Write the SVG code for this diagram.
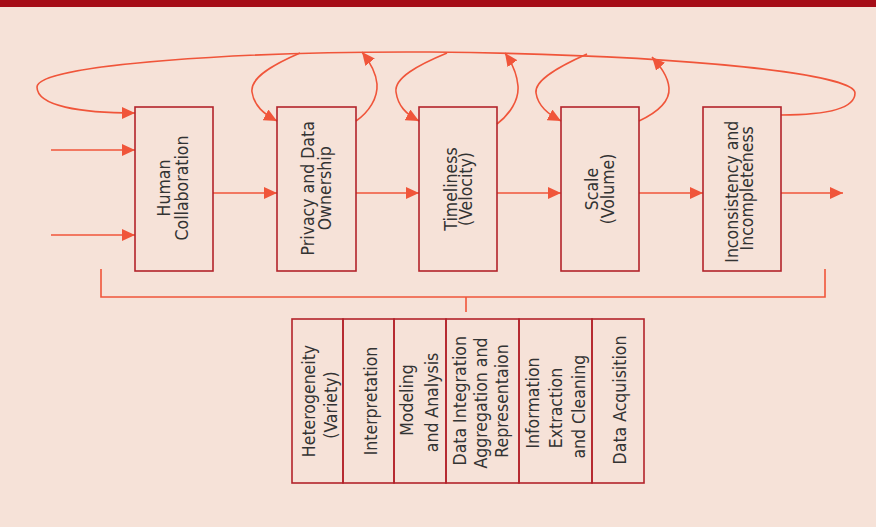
<svg xmlns="http://www.w3.org/2000/svg" width="876" height="527" viewBox="0 0 876 527">
<defs>
<style>
.box{fill:none;stroke:#b3232b;stroke-width:1.6}
.ln{fill:none;stroke:#f0553a;stroke-width:1.6}
.t{font-family:"DejaVu Sans Condensed","DejaVu Sans",sans-serif;font-stretch:condensed;font-size:17.5px;fill:#333;text-anchor:middle}
</style>
<marker id="ah" markerUnits="userSpaceOnUse" markerWidth="13" markerHeight="12" refX="13" refY="6" orient="auto">
<path d="M0,0 L13,6 L0,12 z" fill="#f0553a"/>
</marker>
</defs>
<rect x="0" y="0" width="876" height="527" fill="#f6e2d8"/>
<rect x="0" y="0" width="876" height="7" fill="#a60d17"/>

<g id="connectors">
<path class="ln" d="M781,115 C815,115 855,112 855,93 C855,75 700,55 430,52 C250,51 37,64 37,87 C37,106 80,113 135,113" marker-end="url(#ah)"/>
<path class="ln" d="M300,53 C272,65 250,78 252,92 C254,106 264,114 277,121" marker-end="url(#ah)"/>
<path class="ln" d="M447,53 C418,65 394,78 396,92 C398,106 406,114 419,121" marker-end="url(#ah)"/>
<path class="ln" d="M587,54 C560,66 534,80 536,93 C538,106 548,114 561,121" marker-end="url(#ah)"/>
<path class="ln" d="M356,121 C369,112 378,98 377,84 C376,72 370,62 362,52" marker-end="url(#ah)"/>
<path class="ln" d="M497,124 C510,114 519,100 518,86 C517,74 512,63 505,53" marker-end="url(#ah)"/>
<path class="ln" d="M639,121 C656,113 670,102 669,88 C668,76 660,66 652,57" marker-end="url(#ah)"/>
<path class="ln" d="M51,150 H135" marker-end="url(#ah)"/>
<path class="ln" d="M51,235 H135" marker-end="url(#ah)"/>
<path class="ln" d="M213,193 H277" marker-end="url(#ah)"/>
<path class="ln" d="M356,193 H419" marker-end="url(#ah)"/>
<path class="ln" d="M497,193 H561" marker-end="url(#ah)"/>
<path class="ln" d="M639,193 H703" marker-end="url(#ah)"/>
<path class="ln" d="M781,193 H843" marker-end="url(#ah)"/>
<path class="ln" d="M101,269 V297 H825 V269 M466,297 V312"/>
</g>

<g id="human">
<rect class="box" x="135" y="107" width="78" height="164"/>
<text class="t" transform="translate(174,188) rotate(-90)"><tspan x="0" y="-4">Human</tspan><tspan x="0" y="13.5">Collaboration</tspan></text>
</g>
<g id="privacy">
<rect class="box" x="277" y="107" width="79" height="164"/>
<text class="t" transform="translate(316.5,188.3) rotate(-90)"><tspan x="0" y="-2.5">Privacy and Data</tspan><tspan x="0" y="14.5">Ownership</tspan></text>
</g>
<g id="timeliness">
<rect class="box" x="419" y="107" width="78" height="164"/>
<text class="t" transform="translate(458,189) rotate(-90)"><tspan x="0" y="-1">Timeliness</tspan><tspan x="0" y="14">(Velocity)</tspan></text>
</g>
<g id="scale">
<rect class="box" x="561" y="107" width="78" height="164"/>
<text class="t" transform="translate(600,189) rotate(-90)"><tspan x="0" y="-2">Scale</tspan><tspan x="0" y="14">(Volume)</tspan></text>
</g>
<g id="inconsistency">
<rect class="box" x="703" y="107" width="78" height="164"/>
<text class="t" transform="translate(742,188.3) rotate(-90)"><tspan x="-3.4" y="-4">Inconsistency and</tspan><tspan x="0" y="11">Incompleteness</tspan></text>
</g>

<g id="heterogeneity">
<rect class="box" x="292" y="319" width="51" height="164"/>
<text class="t" transform="translate(317.5,401) rotate(-90)"><tspan x="0" y="-2.5">Heterogeneity</tspan><tspan x="-4" y="19.2">(Variety)</tspan></text>
</g>
<g id="interpretation">
<rect class="box" x="343" y="319" width="51" height="164"/>
<text class="t" transform="translate(368.5,401) rotate(-90)"><tspan x="0" y="8.2">Interpretation</tspan></text>
</g>
<g id="modeling">
<rect class="box" x="394" y="319" width="52" height="164"/>
<text class="t" transform="translate(420,401) rotate(-90)"><tspan x="1" y="-6.7">Modeling</tspan><tspan x="-1.5" y="17.7">and Analysis</tspan></text>
</g>
<g id="integration">
<rect class="box" x="446" y="319" width="73" height="164"/>
<text class="t" transform="translate(482.5,401) rotate(-90)"><tspan x="0.2" y="-16.5">Data Integration</tspan><tspan x="-2" y="4.5">Aggregation and</tspan><tspan x="0" y="25.5">Representaion</tspan></text>
</g>
<g id="extraction">
<rect class="box" x="519" y="319" width="73" height="164"/>
<text class="t" transform="translate(555.5,401) rotate(-90)"><tspan x="-2" y="-16.2">Information</tspan><tspan x="-7" y="6.2">Extraction</tspan><tspan x="-5.7" y="29.5">and Cleaning</tspan></text>
</g>
<g id="acquisition">
<rect class="box" x="592" y="319" width="52" height="164"/>
<text class="t" transform="translate(618,401) rotate(-90)"><tspan x="1" y="8">Data Acquisition</tspan></text>
</g>
</svg>
